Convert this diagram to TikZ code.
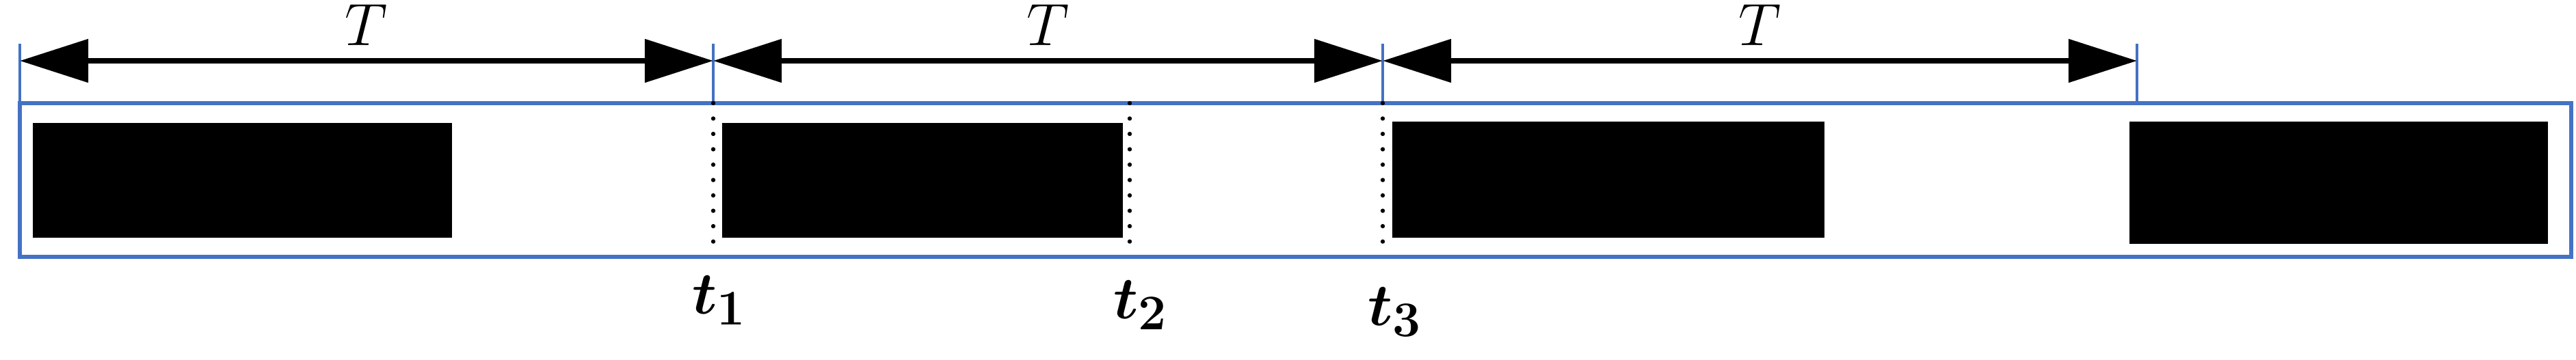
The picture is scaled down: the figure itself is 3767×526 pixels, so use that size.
\documentclass[tikz,border=0pt]{standalone}
\usetikzlibrary{arrows.meta}
\definecolor{bl}{RGB}{68,114,196}
\begin{document}
\begin{tikzpicture}[x=0.01cm,y=-0.01cm,
  frame/.style={draw=bl,line width=1.5pt},
  tick/.style={draw=bl,line width=1pt},
  span/.style={line width=2.3pt,{Triangle[length=1cm,width=0.62cm]}-{Triangle[length=1cm,width=0.62cm]}},
  blk/.style={fill=black},
  dots/.style={line width=1.8pt,line cap=round,dash pattern=on 0pt off 6.4pt},
  lab/.style={font=\fontsize{24}{28}\selectfont},
  tlab/.style={font=\fontsize{30}{34}\selectfont\boldmath}]
\useasboundingbox (0,0) rectangle (3767,526);
\draw[frame] (29,151) rectangle (3760,376);
\foreach \n/\x in {a/29,b/1043,c/2022,d/3125}{
  \coordinate (\n) at (\x,89);
  \draw[tick] (\x,64) -- (\x,151);}
\draw[span] (a) -- node[lab,above=2pt]{$T$} (b);
\draw[span] (b) -- node[lab,above=2pt]{$T$} (c);
\draw[span] (c) -- node[lab,above=2pt]{$T$} (d);
\fill[blk] (48,180) rectangle (661,348);
\fill[blk] (1056,180) rectangle (1642,348);
\fill[blk] (2036,178) rectangle (2668,348);
\fill[blk] (3114,178) rectangle (3726,357);
\draw[dots] (1043,151) -- (1043,360);
\draw[dots] (1652,151) -- (1652,360);
\draw[dots] (2022,151) -- (2022,360);
\node[tlab] (t1) at (1052,440) {$t_1$};
\node[tlab] (t2) at (1668,447) {$t_2$};
\node[tlab] (t3) at (2040,457) {$t_3$};
\end{tikzpicture}
\end{document}
